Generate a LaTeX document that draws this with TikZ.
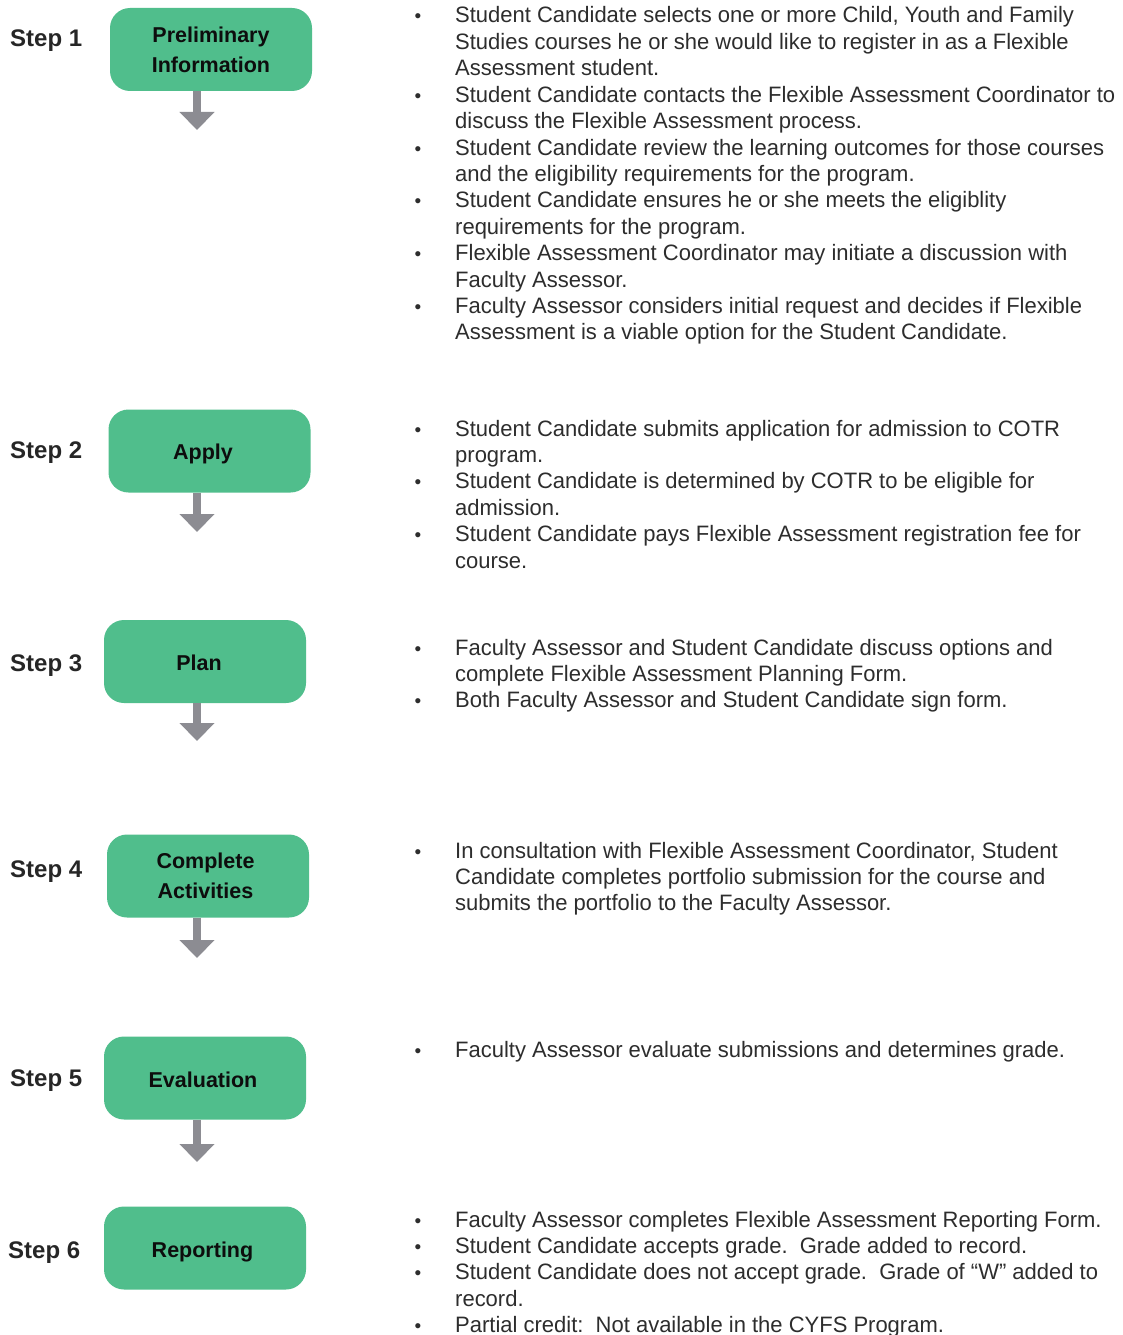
\documentclass[tikz,border=0pt]{standalone}
\usepackage{fontspec}
\setmainfont{Liberation Sans}
\newfontfamily\bodyfont{Liberation Sans}[FakeStretch=0.986]
\usetikzlibrary{arrows.meta}
\definecolor{boxgreen}{RGB}{80,190,140}
\definecolor{arrowgray}{RGB}{140,140,146}
\definecolor{bodygray}{RGB}{45,45,45}
% #1 name, #2 baseline of first line, #3 number of lines, #4 text
\newcommand\bitem[4]{%
  \node[bulletmark] (#1b) at (418,#2) {•};
  \node[bodytext] (#1) at (455,{#2+(#3-1)*26.4}) {#4};}
% shift box text: #1 down, #2 horizontal kern, #3 text
\newcommand\boxtxt[3]{\raisebox{-#1}[\height][\depth]{\hspace*{#2}#3}}
\begin{document}
\begin{tikzpicture}[x=1pt,y=-1pt,
  stepbox/.style={fill=boxgreen, rounded corners=20pt, align=center,
    minimum width=202pt, minimum height=83pt, inner sep=0pt,
    font=\bfseries\fontsize{21.5}{30}\selectfont, text=black!95},
  steplabel/.style={anchor=base west, inner sep=0pt,
    font=\bfseries\fontsize{24}{28}\selectfont, text=black!85},
  flowarrow/.style={draw=arrowgray, line width=8pt,
    -{Triangle[width=34pt,length=18pt]}},
  bodytext/.style={anchor=base west, inner sep=0pt, align=left,
    font=\bodyfont\fontsize{22.3}{26.4}\selectfont, text=bodygray},
  bulletmark/.style={anchor=base, inner sep=0pt,
    font=\fontsize{19}{22}\selectfont, text=bodygray}]
\useasboundingbox (0,0) rectangle (1122,1335);
\fill[white] (0,0) rectangle (1122,1335);

% Step 1
\node[steplabel] (s1) at (10,46.5) {Step 1};
\node[stepbox] (b1) at (211,49.5) {Preliminary\\Information};
\coordinate (a1) at (197,130);
\draw[flowarrow] (b1.south -| a1) -- (a1);
\bitem{t11}{23}{3}{Student Candidate selects one or more Child, Youth and Family\\Studies courses he or she would like to register in as a Flexible\\Assessment student.}
\bitem{t12}{102.2}{2}{Student Candidate contacts the Flexible Assessment Coordinator to\\discuss the Flexible Assessment process.}
\bitem{t13}{155}{2}{Student Candidate review the learning outcomes for those courses\\and the eligibility requirements for the program.}
\bitem{t14}{207.8}{2}{Student Candidate ensures he or she meets the eligiblity\\requirements for the program.}
\bitem{t15}{260.6}{2}{Flexible Assessment Coordinator may initiate a discussion with\\Faculty Assessor.}
\bitem{t16}{313.4}{2}{Faculty Assessor considers initial request and decides if Flexible\\Assessment is a viable option for the Student Candidate.}

% Step 2
\node[steplabel] (s2) at (10,458.5) {Step 2};
\node[stepbox] (b2) at (209.5,451) {\boxtxt{3pt}{-13pt}{Apply}};
\coordinate (a2) at (197,532);
\draw[flowarrow] (b2.south -| a2) -- (a2);
\bitem{t21}{436}{2}{Student Candidate submits application for admission to COTR\\program.}
\bitem{t22}{488.8}{2}{Student Candidate is determined by COTR to be eligible for\\admission.}
\bitem{t23}{541.6}{2}{Student Candidate pays Flexible Assessment registration fee for\\course.}

% Step 3
\node[steplabel] (s3) at (10,671.5) {Step 3};
\node[stepbox] (b3) at (205,661.5) {\boxtxt{1.5pt}{-12pt}{Plan}};
\coordinate (a3) at (197,741);
\draw[flowarrow] (b3.south -| a3) -- (a3);
\bitem{t31}{655}{2}{Faculty Assessor and Student Candidate discuss options and\\complete Flexible Assessment Planning Form.}
\bitem{t32}{707.8}{1}{Both Faculty Assessor and Student Candidate sign form.}

% Step 4
\node[steplabel] (s4) at (10,877.5) {Step 4};
\node[stepbox] (b4) at (208,876) {\hspace*{-5pt}Complete\\\hspace*{-5pt}Activities};
\coordinate (a4) at (197,958);
\draw[flowarrow] (b4.south -| a4) -- (a4);
\bitem{t41}{858}{3}{In consultation with Flexible Assessment Coordinator, Student\\Candidate completes portfolio submission for the course and\\submits the portfolio to the Faculty Assessor.}

% Step 5
\node[steplabel] (s5) at (10,1086.5) {Step 5};
\node[stepbox] (b5) at (205,1078) {\boxtxt{2pt}{-4pt}{Evaluation}};
\coordinate (a5) at (197,1162);
\draw[flowarrow] (b5.south -| a5) -- (a5);
\bitem{t51}{1057}{1}{Faculty Assessor evaluate submissions and determines grade.}

% Step 6
\node[steplabel] (s6) at (8,1258.5) {Step 6};
\node[stepbox] (b6) at (205,1248) {\boxtxt{4pt}{-5pt}{Reporting}};
\bitem{t61}{1227}{1}{Faculty Assessor completes Flexible Assessment Reporting Form.}
\bitem{t62}{1253.4}{1}{Student Candidate accepts grade.\ \ Grade added to record.}
\bitem{t63}{1279.8}{2}{Student Candidate does not accept grade.\ \ Grade of “W” added to\\record.}
\bitem{t64}{1332.6}{1}{Partial credit:\ \ Not available in the CYFS Program.}
\end{tikzpicture}
\end{document}
